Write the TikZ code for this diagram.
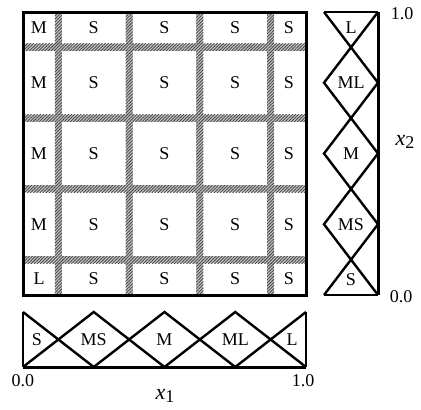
\documentclass[tikz,border=0pt]{standalone}
\usepackage{fontspec}
\setmainfont{Liberation Serif}
\usetikzlibrary{patterns.meta}
\begin{document}
\begin{tikzpicture}[x=1pt,y=-1pt,
  band/.style={fill=gray!45,draw=none},
  hatch/.style={pattern={Lines[angle=45,distance=2.2pt,line width=0.9pt]},pattern color=black!70},
  mf/.style={line width=2.4pt,line join=miter},
  frame/.style={line width=3pt},
  lab/.style={font=\fontsize{18}{18}\selectfont,inner sep=0pt},
  num/.style={font=\fontsize{18}{18}\selectfont,inner sep=0pt},
  var/.style={font=\fontsize{22}{22}\selectfont,inner sep=0pt}]
\useasboundingbox (0,0) rectangle (421,410);
% hatched bands
\foreach \v in {58.375,129.125,199.875,270.625}{
  \fill[band] (\v-3.5,12) rectangle (\v+3.5,295);
  \fill[hatch] (\v-3.5,12) rectangle (\v+3.5,295);
}
\foreach \h in {47.375,118.125,188.875,259.625}{
  \fill[band] (23,\h-3.5) rectangle (306,\h+3.5);
  \fill[hatch] (23,\h-3.5) rectangle (306,\h+3.5);
}
\draw[frame] (23,12) rectangle (306,295);
% cell labels
\foreach \r/\y in {0/28,1/82.75,2/153.5,3/224.25,4/279}{
  \foreach \c/\x in {1/93.75,2/164.5,3/235.25,4/289}{
    \node[lab] (c\r\c) at (\x,\y) {S};
  }
}
\node[lab] (c00) at (39,28) {M};
\node[lab] (c10) at (39,82.75) {M};
\node[lab] (c20) at (39,153.5) {M};
\node[lab] (c30) at (39,224.25) {M};
\node[lab] (c40) at (39,279) {L};
% right membership panel
\draw[mf] (324,12) -- (378,12);
\draw[mf] (324,295) -- (378,295);
\draw[mf] (324,12) -- (378,82.75);
\draw[mf] (378,12) -- (324,82.75) -- (378,153.5);
\draw[mf] (378,82.75) -- (324,153.5) -- (378,224.25);
\draw[mf] (378,153.5) -- (324,224.25) -- (378,295);
\draw[mf] (378,224.25) -- (324,295);
\draw[frame] (378,12) -- (378,295);
\node[lab] (rL) at (351,28) {L};
\node[lab] (rML) at (351,82.75) {ML};
\node[lab] (rM) at (351,153.5) {M};
\node[lab] (rMS) at (351,224.25) {MS};
\node[lab] (rS) at (351,280) {S};
\node[num] (r1) at (402,14) {1.0};
\node[num] (r0) at (401,297) {0.0};
\node[var] (x2) at (405,142) {\textit{x}\raisebox{-0.35ex}{\fontsize{18}{18}\selectfont 2}};
% bottom membership panel
\draw[mf] (23,312) -- (23,367);
\draw[mf] (306,312) -- (306,367);
\draw[mf] (23,312) -- (93.75,367);
\draw[mf] (23,367) -- (93.75,312) -- (164.5,367);
\draw[mf] (93.75,367) -- (164.5,312) -- (235.25,367);
\draw[mf] (164.5,367) -- (235.25,312) -- (306,367);
\draw[mf] (235.25,367) -- (306,312);
\draw[frame] (23,367) -- (306,367);
\node[lab] (bS) at (37,340) {S};
\node[lab] (bMS) at (93.75,340) {MS};
\node[lab] (bM) at (164.5,340) {M};
\node[lab] (bML) at (235.25,340) {ML};
\node[lab] (bL) at (292,340) {L};
\node[num] (b0) at (23,381) {0.0};
\node[num] (b1) at (303,381) {1.0};
\node[var] (x1) at (165,396) {\textit{x}\raisebox{-0.35ex}{\fontsize{18}{18}\selectfont 1}};
\end{tikzpicture}
\end{document}
